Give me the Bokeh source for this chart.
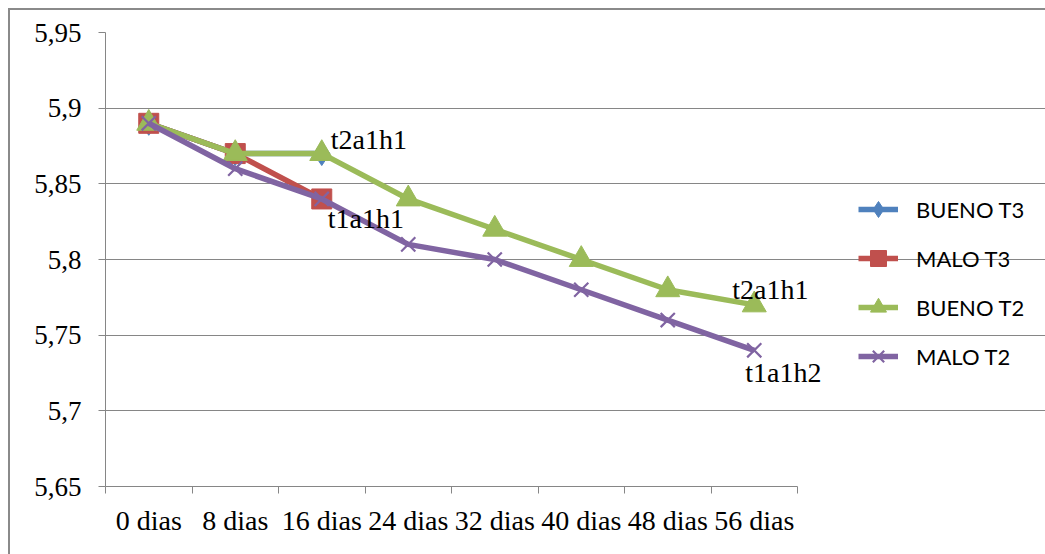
from bokeh.plotting import figure
from bokeh.models import (Range1d, FixedTicker, Legend, LegendItem, Label)
from bokeh.embed import file_html
from bokeh.resources import INLINE

# ---------------- data ----------------
categories = ["0 dias", "8 dias", "16 dias", "24 dias", "32 dias", "40 dias", "48 dias", "56 dias"]
bueno_t3 = [5.89, 5.87, 5.87]
malo_t3 = [5.89, 5.87, 5.84]
bueno_t2 = [5.89, 5.87, 5.87, 5.84, 5.82, 5.80, 5.78, 5.77]
malo_t2 = [5.89, 5.86, 5.84, 5.81, 5.80, 5.78, 5.76, 5.74]
y_ticks = [5.65, 5.70, 5.75, 5.80, 5.85, 5.90, 5.95]
y_tick_labels = ["5,65", "5,7", "5,75", "5,8", "5,85", "5,9", "5,95"]
point_labels = [
    # (text, series, category index)
    ("t2a1h1", "bueno_t3", 2),
    ("t1a1h1", "malo_t3", 2),
    ("t2a1h1", "bueno_t2", 7),
    ("t1a1h2", "malo_t2", 7),
]

series = {
    "bueno_t3": bueno_t3,
    "malo_t3": malo_t3,
    "bueno_t2": bueno_t2,
    "malo_t2": malo_t2,
}

def xs(n):
    return [i + 0.5 for i in range(n)]

SERIF = "Liberation Serif"
GRAY = "#868686"

# layout (screen px)
W, H = 1037, 546
LEFT, TOP, BOTTOM = 95, 22, 70
AXIS_PX = 692                # pixel length of the category axis
frame_px = W - LEFT
n = len(categories)
x_end = n * frame_px / AXIS_PX   # frame extends to the right edge; axis/grid bounded to categories

p = figure(width=W, height=H, output_backend="svg", toolbar_location=None,
           x_range=Range1d(0, x_end), y_range=Range1d(5.65, 5.95),
           min_border_left=LEFT, min_border_right=0, min_border_top=TOP, min_border_bottom=BOTTOM,
           margin=(8, 0, 0, 8))
p.styles = {"border-top": "2px solid #8a8a8a", "border-left": "2px solid #8a8a8a"}
p.outline_line_color = None
p.background_fill_color = "white"
p.border_fill_color = "white"

# grid
p.xgrid.grid_line_color = None
p.ygrid.grid_line_color = GRAY
p.ygrid.grid_line_width = 1
p.ygrid.ticker = FixedTicker(ticks=y_ticks)
p.ygrid.bounds = (0, n)

# y axis
p.yaxis.ticker = FixedTicker(ticks=y_ticks)
p.yaxis.major_label_overrides = {t: l for t, l in zip(y_ticks, y_tick_labels)}
p.yaxis.axis_line_color = GRAY
p.yaxis.major_tick_line_color = GRAY
p.yaxis.major_tick_out = 7
p.yaxis.major_tick_in = 0
p.yaxis.minor_tick_line_color = None
p.yaxis.major_label_text_font = SERIF
p.yaxis.major_label_text_font_size = "27px"
p.yaxis.major_label_text_color = "black"
p.yaxis.major_label_standoff = 17

# x axis
centers = xs(n)
p.xaxis.ticker = FixedTicker(ticks=centers, minor_ticks=list(range(n + 1)))
p.xaxis.bounds = (0, n)
p.xaxis.major_label_overrides = {c: l for c, l in zip(centers, categories)}
p.xaxis.axis_line_color = GRAY
p.xaxis.major_tick_line_color = None
p.xaxis.minor_tick_line_color = GRAY
p.xaxis.minor_tick_out = 7
p.xaxis.minor_tick_in = 0
p.xaxis.major_tick_out = 7
p.xaxis.major_label_text_font = SERIF
p.xaxis.major_label_text_font_size = "28px"
p.xaxis.major_label_text_color = "black"
p.xaxis.major_label_standoff = 11

LW = 5.5
items = []

# BUENO T3
l1 = p.line(xs(len(bueno_t3)), bueno_t3, line_color="#4F81BD", line_width=LW)
m1 = p.scatter(xs(len(bueno_t3)), bueno_t3, marker="diamond", size=24,
               fill_color="#4F81BD", line_color="#4F81BD")
items.append(LegendItem(label="BUENO T3", renderers=[l1, m1]))

# MALO T3
l2 = p.line(xs(len(malo_t3)), malo_t3, line_color="#C0504D", line_width=LW)
m2 = p.scatter(xs(len(malo_t3)), malo_t3, marker="square", size=20,
               fill_color="#C0504D", line_color="#C0504D")
items.append(LegendItem(label="MALO T3", renderers=[l2, m2]))

# BUENO T2
l3 = p.line(xs(len(bueno_t2)), bueno_t2, line_color="#9BBB59", line_width=LW)
m3 = p.scatter(xs(len(bueno_t2)), bueno_t2, marker="triangle", size=24,
               fill_color="#9BBB59", line_color="#9BBB59")
items.append(LegendItem(label="BUENO T2", renderers=[l3, m3]))

# MALO T2
l4 = p.line(xs(len(malo_t2)), malo_t2, line_color="#8064A2", line_width=LW)
m4 = p.scatter(xs(len(malo_t2)), malo_t2, marker="x", size=20,
               line_color="#8064A2", line_width=2.2)
items.append(LegendItem(label="MALO T2", renderers=[l4, m4]))

legend = Legend(items=items, location=(753, 108), orientation="vertical",
                glyph_width=40, glyph_height=44, label_height=20, spacing=5,
                label_standoff=18, padding=0, margin=0,
                border_line_color=None, background_fill_alpha=0,
                label_text_font="Lato", label_text_font_size="22px",
                label_text_color="black")
p.add_layout(legend)

# data labels (offsets in screen px)
label_offsets = [(9, 14), (6, -20), (-22, 15), (-9, -22)]
for (txt, key, idx), (dx, dy) in zip(point_labels, label_offsets):
    p.add_layout(Label(x=centers[idx], y=series[key][idx], text=txt,
                       x_offset=dx, y_offset=dy, text_baseline="alphabetic",
                       text_font=SERIF, text_font_size="28px", text_color="black"))

open("out.html", "w").write(file_html(p, INLINE))
